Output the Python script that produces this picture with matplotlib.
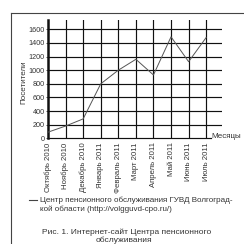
import matplotlib
matplotlib.use("Agg")
import matplotlib.pyplot as plt
from matplotlib.lines import Line2D

months = ["Октябрь 2010", "Ноябрь 2010", "Декабрь 2010", "Январь 2011", "Февраль 2011",
          "Март 2011", "Апрель 2011", "Май 2011", "Июнь 2011", "Июль 2011"]
visitors = [90, 180, 285, 800, 1000, 1160, 930, 1490, 1125, 1480]
yticks = [0, 200, 400, 600, 800, 1000, 1200, 1400, 1600]

plt.rcParams['font.family'] = ['Liberation Sans', 'DejaVu Sans']
W = H = 244.0
fig = plt.figure(figsize=(2.44, 2.44), dpi=100)

def fx(px):
    return px / W

def fy(py):
    return 1 - py / H

# axes: left 48, right 222, top 20, bottom 138.3
ax = fig.add_axes([fx(48), fy(138.3), fx(222) - fx(48), fy(20) - fy(138.3)])
ax.set_xlim(0, 9.9)
ax.set_ylim(0, 1737)
txtc = '#333333'
gridc = '#111111'
for v in yticks[1:]:
    ax.axhline(v, color=gridc, lw=0.85, zorder=1)
for i in range(1, len(months)):
    ax.axvline(i, color=gridc, lw=0.85, zorder=1)
ax.plot(range(len(months)), visitors, color='#555555', lw=0.7, zorder=3)

for s in ['top', 'right', 'bottom']:
    ax.spines[s].set_visible(False)
ax.spines['left'].set_linewidth(1.8)
ax.spines['left'].set_color('#111111')
# x axis line up to the "Месяцы" label
ax.plot([0, (211 - 48) / 17.55], [0, 0], color=gridc, lw=0.85, clip_on=False, zorder=2)

ax.set_yticks(yticks)
ax.set_yticklabels([str(v) for v in yticks], fontsize=5.2, color=txtc)
ax.tick_params(axis='y', length=1.5, width=0.6, pad=1, colors=txtc)
ax.set_xticks(range(len(months)))
ax.set_xticklabels(months, rotation=90, fontsize=5.6, color=txtc)
ax.tick_params(axis='x', length=0, pad=3)

fig.text(fx(24), fy(82), "Посетители", rotation=90, fontsize=5.8, color=txtc,
         ha='center', va='center')
fig.text(fx(211), fy(136), "Месяцы", fontsize=5.8, color=txtc, ha='left', va='center')

# legend
fig.add_artist(Line2D([fx(29), fx(37)], [fy(200), fy(200)], color='#444444', lw=0.8))
fig.text(fx(40.5), fy(200), "Центр пенсионного обслуживания ГУВД Волгоград-",
         fontsize=5.8, color=txtc, ha='left', va='center')
fig.text(fx(40.5), fy(209.5), "кой области (http://volgguvd-cpo.ru/)",
         fontsize=5.8, color=txtc, ha='left', va='center')

# caption
fig.text(fx(127), fy(232.5), "Рис. 1. Интернет-сайт Центра пенсионного",
         fontsize=6.0, color=txtc, ha='center', va='center')
fig.text(fx(124), fy(240.5), "обслуживания",
         fontsize=6.0, color=txtc, ha='center', va='center')

# outer frame
fig.add_artist(Line2D([fx(11), fx(11)], [0, fy(13)], color='#444444', lw=0.8))
fig.add_artist(Line2D([fx(11), 1], [fy(13), fy(13)], color='#444444', lw=0.8))

fig.savefig("out.png", dpi=100)
